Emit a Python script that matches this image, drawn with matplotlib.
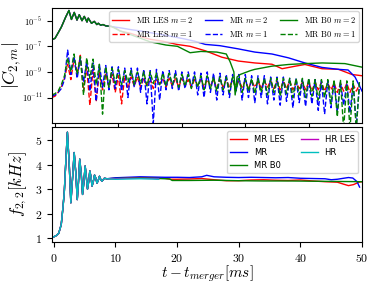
import numpy as np
import matplotlib
matplotlib.use('Agg')
import matplotlib.pyplot as plt

plt.rcParams['font.family'] = 'serif'
plt.rcParams['font.serif'] = ['cmr10']
plt.rcParams['mathtext.fontset'] = 'cm'
plt.rcParams['axes.formatter.use_mathtext'] = True

# ---- top panel: |C_{2,m}| (stored as log10) ----
t_c2_early = [-0.5, 0, 0.5, 1.0, 1.3, 1.7, 2.2, 2.6, 3.04, 3.47, 3.83, 4.26, 4.62,
              5.05, 5.25, 5.76, 6.2, 6.6, 6.83, 7.2, 7.57, 8.0, 8.9]
c2_early = [-6.48, -6.38, -5.95, -5.5, -5.16, -4.7, -4.2, -4.9, -4.35, -4.95, -4.53,
            -5.0, -4.66, -5.1, -4.8, -5.2, -5.05, -5.3, -5.2, -5.35, -5.3, -5.4, -5.45]

t_c2_les = [9.5, 10.25, 12, 13.5, 15, 17, 19.2, 21.3, 23.7, 26.3, 28.9, 31.5, 34.2,
            35.8, 37.9, 39.4, 42.1, 44.7, 46.8, 48.4]
c2_les = [-5.55, -5.8, -6.0, -6.25, -6.45, -6.6, -6.85, -7.0, -7.35, -7.85, -8.15,
          -8.3, -8.4, -8.75, -8.55, -8.42, -8.75, -8.8, -9.2, -9.3]

t_c2_mr = [9.5, 10.25, 12, 13.5, 15, 17, 20.2, 22, 23.7, 26, 28.9, 31.5, 34.2, 36.8,
           39.4, 42.1, 44.7, 46.2, 47.3, 48.1, 48.4]
c2_mr = [-5.5, -5.55, -5.7, -5.8, -5.93, -6.1, -6.4, -6.6, -6.85, -6.95, -7.2, -7.45,
         -7.6, -7.9, -8.3, -8.65, -8.8, -8.85, -9.4, -10.2, -10.5]

t_c2_b0 = [9.5, 10.25, 12, 15, 17.5, 19.3, 21.3, 23, 25.5, 27.0, 27.6, 28.2, 28.4,
           28.7, 29.2, 30.8, 31.5, 34.2, 36.8, 39.4, 42.1, 45.7, 48.4]
c2_b0 = [-5.6, -5.8, -6.1, -6.65, -6.9, -7.0, -7.5, -7.4, -7.45, -7.6, -8.2, -9.0,
         -10.8, -9.4, -9.2, -8.9, -8.8, -8.55, -8.42, -8.35, -8.3, -8.35, -8.63]

# m=1, sampled every 0.5 ms from t=-0.5
c1_les = [-11.0, -10.9, -10.6, -10.2, -9.5, -8.4, -9.6, -8.0, -9.3, -7.7, -10.5, -8.6,
          -11.6, -8.8, -11.3, -9.0, -10.4, -9.1, -10.2, -9.2, -10.6, -9.3, -11.5, -9.3,
          -10.3, -9.4, -10.1, -9.4, -10.2, -9.5, -10.1, -9.5, -10.3, -9.5, -10.0, -9.5,
          -10.2, -9.5, -10.1, -9.5, -10.2, -9.5, -10.1, -9.6, -10.2, -9.6, -10.1, -9.6,
          -10.2, -9.6, -10.1, -9.6, -10.3, -9.6, -10.2, -9.6, -10.2, -9.6, -10.1, -9.7,
          -10.2, -9.7, -10.3, -9.7, -10.2, -9.7, -10.3, -9.7, -10.2, -9.7, -10.3, -9.7,
          -10.4, -9.7, -10.3, -9.7, -10.4, -9.8, -10.3, -9.8, -10.4, -9.8, -10.5, -9.8,
          -10.4, -9.8, -10.5, -9.9, -10.4, -9.9, -10.6, -9.9, -10.5, -9.9, -10.6, -10.0,
          -10.5, -10.0]
c1_mr = [-10.9, -10.8, -10.6, -10.3, -9.6, -7.3, -9.2, -7.8, -9.5, -7.9, -9.8, -8.2,
         -10.5, -8.3, -11.3, -8.4, -10.2, -8.5, -10.4, -8.6, -10.3, -8.6, -10.5, -8.7,
         -11.0, -8.7, -10.2, -8.7, -10.6, -8.8, -11.5, -8.9, -13.0, -8.8, -11.2, -8.9,
         -10.4, -8.9, -10.3, -8.9, -10.5, -9.0, -10.3, -9.0, -10.2, -9.0, -10.8, -9.1,
         -11.0, -9.0, -10.6, -9.1, -11.2, -9.1, -10.8, -9.2, -11.0, -9.2, -10.6, -9.2,
         -11.2, -9.2, -11.0, -9.3, -11.4, -9.3, -11.0, -9.3, -11.5, -9.4, -11.2, -9.4,
         -11.6, -9.4, -11.3, -9.5, -11.8, -9.5, -11.4, -9.6, -11.7, -9.6, -11.5, -9.6,
         -12.0, -9.7, -12.3, -9.7, -11.8, -9.8, -12.1, -9.8, -11.6, -9.9, -12.2, -9.9,
         -13.2, -10.0]
c1_b0 = [-10.8, -10.7, -10.5, -10.0, -9.3, -7.9, -9.0, -7.6, -9.2, -7.8, -10.8, -7.9,
         -9.5, -8.0, -10.0, -8.4, -12.3, -8.6, -10.2, -8.7, -9.9, -8.8, -10.0, -8.9,
         -9.8, -8.9, -10.0, -9.0, -9.9, -9.0, -10.1, -9.0, -9.9, -9.1, -10.0, -9.1,
         -10.1, -9.1, -10.0, -9.2, -10.2, -9.2, -10.1, -9.2, -10.3, -9.3, -10.2, -9.3,
         -10.4, -9.3, -10.3, -9.4, -10.5, -9.4, -10.4, -9.4, -10.6, -9.4, -10.5, -9.5,
         -10.6, -9.5, -10.5, -9.5, -10.7, -9.5, -10.6, -9.5, -10.8, -9.5, -10.6, -9.5,
         -10.9, -9.5, -10.7, -9.5, -11.0, -9.5, -10.8, -9.5, -11.0, -9.5, -10.9, -9.6,
         -11.2, -9.6, -11.0, -9.6, -11.5, -9.6, -12.5, -9.6, -13.5, -9.7, -13.5, -9.7,
         -13.5, -9.7]

# ---- bottom panel: f_22 [kHz] ----
t_f_early = [-0.3, 0, 0.4, 0.8, 1.2, 1.5, 1.7, 1.95, 2.2, 2.5, 2.76, 3.05, 3.3, 3.55,
             3.8, 4.0, 4.2, 4.45, 4.66, 4.88, 5.08, 5.27, 5.46, 5.65, 5.84, 6.02, 6.2,
             6.4, 6.6, 6.8, 7.0, 7.2, 7.4, 7.6, 7.8, 8.2, 8.6]
f_early = [1.02, 1.05, 1.1, 1.2, 1.55, 2.3, 2.9, 4.15, 5.32, 4.0, 2.44, 3.5, 4.49,
           3.7, 2.57, 3.3, 4.22, 3.6, 2.78, 3.3, 3.94, 3.5, 3.0, 3.3, 3.74, 3.5, 3.12,
           3.3, 3.57, 3.45, 3.24, 3.35, 3.52, 3.4, 3.32, 3.44, 3.42]

t_f_les = [10, 12, 14, 16, 18, 19, 20, 22, 24, 26, 28, 30, 32, 34, 36, 38, 40, 42, 44,
           46, 47, 47.8, 48.6, 49.5, 50]
f_les = [3.44, 3.45, 3.47, 3.46, 3.44, 3.40, 3.40, 3.41, 3.43, 3.38, 3.34, 3.34, 3.37,
         3.38, 3.36, 3.35, 3.37, 3.33, 3.30, 3.28, 3.20, 3.14, 3.18, 3.28, 3.30]
t_f_mr = [10, 12, 14, 16, 18, 20, 22, 24, 24.8, 26, 28, 30, 32, 34, 36, 38, 40, 42, 44,
          45, 46, 47, 47.8, 48.5, 49.2, 49.6]
f_mr = [3.46, 3.48, 3.50, 3.49, 3.48, 3.48, 3.47, 3.50, 3.56, 3.50, 3.48, 3.47, 3.48,
        3.47, 3.46, 3.47, 3.44, 3.43, 3.42, 3.38, 3.40, 3.44, 3.47, 3.45, 3.30, 3.08]
t_f_b0 = [10, 12, 14, 16, 18, 18.8, 19.2, 22, 26, 30, 34, 38, 42, 46, 50]
f_b0 = [3.43, 3.45, 3.46, 3.44, 3.42, 3.41, 3.35, 3.35, 3.36, 3.34, 3.33, 3.33, 3.32,
        3.31, 3.30]
t_f_hr = [10, 12, 14, 16, 17]
f_hr_les = [3.42, 3.44, 3.44, 3.43, 3.42]
f_hr = [3.40, 3.41, 3.42, 3.41, 3.40]


fig = plt.figure(figsize=(3.74, 2.83), dpi=100)
ax1 = fig.add_axes([0.139, 0.565, 0.829, 0.407])
ax2 = fig.add_axes([0.139, 0.145, 0.829, 0.406])

t_m1 = -0.5 + 0.5 * np.arange(len(c1_mr))
solid = [("MR LES", "r", t_c2_les, c2_les, c1_les),
         ("MR", "b", t_c2_mr, c2_mr, c1_mr),
         ("MR B0", "g", t_c2_b0, c2_b0, c1_b0)]
for name, col, tt, c2, c1 in solid:
    ax1.plot(t_c2_early + tt, 10.0 ** np.array(c2_early + c2), color=col, lw=1.0,
             label=name + r" $m=2$")
    ax1.plot(t_m1, 10.0 ** np.array(c1), color=col, lw=1.0, ls="--",
             label=name + r" $m=1$")
ax1.set_yscale("log")
ax1.set_ylim(1e-13, 1e-4)
ax1.set_xlim(-0.47, 48.4)
ax1.set_yticks([1e-11, 1e-9, 1e-7, 1e-5])
ax1.yaxis.set_minor_locator(matplotlib.ticker.NullLocator())
ax1.set_xticks([0, 10, 20, 30, 40])
ax1.set_xticklabels([])
ax1.tick_params(labelsize=6)
ax1.set_ylabel(r"$|C_{2,m}|$", fontsize=13)
ax1.yaxis.set_label_coords(-0.093, 0.5)
ax1.legend(ncol=3, loc="upper right", fontsize=6, handlelength=2.0, columnspacing=1.5,
           borderaxespad=0.4)

curves = [("MR LES", "r", t_f_les, f_les), ("MR", "b", t_f_mr, f_mr),
          ("MR B0", "g", t_f_b0, f_b0), ("HR LES", "m", t_f_hr, f_hr_les),
          ("HR", "c", t_f_hr, f_hr)]
for name, col, tt, ff in curves:
    ax2.plot(t_f_early + tt, f_early + ff, color=col, lw=1.0, label=name)
ax2.set_xlim(-0.3, 50)
ax2.set_ylim(0.84, 5.53)
ax2.set_xticks([0, 10, 20, 30, 40, 50])
ax2.set_yticks([1, 2, 3, 4, 5])
ax2.tick_params(labelsize=8.5)
ax2.set_ylabel(r"$f_{2,2}[kHz]$", fontsize=12, labelpad=4)
ax2.set_xlabel(r"$t-t_{merger}[ms]$", fontsize=11, labelpad=0)
ax2.legend(ncol=2, loc="upper right", prop={"family": "DejaVu Sans", "size": 6},
           handlelength=2.0, columnspacing=2.0)

fig.savefig("out.png", dpi=100)
